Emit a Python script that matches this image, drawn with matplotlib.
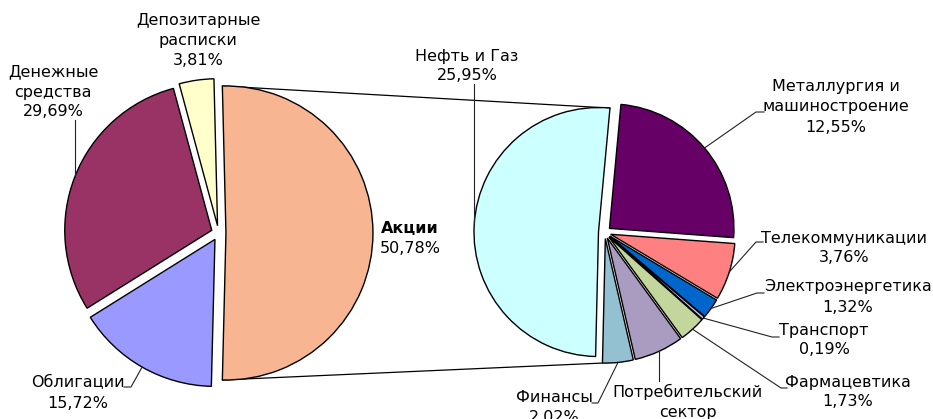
import numpy as np
import matplotlib
matplotlib.use("Agg")
import matplotlib.pyplot as plt

W, H = 933, 419

# ---------------- data ----------------
main_labels = ['Акции', 'Облигации', 'Денежные\nсредства', 'Депозитарные\nрасписки']
main_values = [50.78, 15.72, 29.69, 3.81]
main_colors = ['#F8B592', '#9999FF', '#993366', '#FFFFCC']

sub_labels = ['Металлургия и\nмашиностроение', 'Телекоммуникации', 'Электроэнергетика',
              'Транспорт', 'Фармацевтика', 'Потребительский\nсектор', 'Финансы', 'Нефть и Газ']
sub_values = [12.55, 3.76, 1.32, 0.19, 1.73, 3.26, 2.02, 25.95]
sub_colors = ['#660066', '#FF8080', '#0066CC', '#CCCCFF', '#C3D69B', '#A99CC0', '#93C1D1', '#CCFFFF']

# ---------------- layout (pixel coords, y down) ----------------
main_center_px = (218.6, 233.0)
main_radius = 147
sub_center_px = (604.7, 232.4)
sub_radius = 124.5
sub_start = 84.7
EXPLODE = 0.05  # fraction of radius

main_text_px = [(410, 238.5), (78, 393), (53, 92), (198, 40.5)]
main_leader_px = [None, [(131, 387), (124, 387)], [(None, 120)], None]

sub_text_px = [(836, 107), (844, 248), (848, 297), (824, 340), (848, 392),
               (688, 412), (554, 407.5), (467, 66)]
sub_leader_px = [[(756, 112), (764, 112)], [(756, 242), (763, 242)],
                 [(757, 293), (764, 293)], [(772, 337), (779, 337)],
                 [(781, 388), (787, 388)], [(None, 381)],
                 [(598, 403), (592, 403)], [(None, 84)]]

LINE = 20  # pixel line pitch
FS = 11.5


def P(x, y):
    return (x, H - y)


def fmt(v):
    return f'{v:.2f}'.replace('.', ',') + '%'


fig = plt.figure(figsize=(W / 100, H / 100), dpi=100)
ax = fig.add_axes([0, 0, 1, 1])

wp = dict(edgecolor='black', linewidth=1.0)
# matplotlib's explode is in data units, so scale by radius
main_w, _ = ax.pie(main_values, colors=main_colors, startangle=main_values[0] / 100 * 180,
                   counterclock=False, center=P(*main_center_px), radius=main_radius,
                   explode=[EXPLODE * main_radius] * len(main_values), wedgeprops=wp, frame=True)
sub_w, _ = ax.pie(sub_values, colors=sub_colors, startangle=sub_start,
                  counterclock=False, center=P(*sub_center_px), radius=sub_radius,
                  explode=[EXPLODE * sub_radius] * len(sub_values), wedgeprops=wp, frame=True)

ax.set_xlim(0, W)
ax.set_ylim(0, H)
ax.set_aspect('equal')
ax.axis('off')


def pt(w, ang):
    cx, cy = w.center
    return (cx + w.r * np.cos(np.radians(ang)), cy + w.r * np.sin(np.radians(ang)))


# connectors between the pies
a = main_w[0]
top_l = pt(a, a.theta2)
bot_l = pt(a, a.theta1)
oil = sub_w[-1]
fin = sub_w[-2]
top_r = pt(oil, oil.theta1)
bot_r = pt(fin, fin.theta1)
ax.plot([top_l[0], top_r[0]], [top_l[1], top_r[1]], color='black', lw=0.9, zorder=0.5)
ax.plot([bot_l[0], bot_r[0]], [bot_l[1], bot_r[1]], color='black', lw=0.9, zorder=0.5)


def draw_label(name, val, pos, bold_first=False):
    lines = name.split('\n') + [fmt(val)]
    n = len(lines)
    for i, ln in enumerate(lines):
        y = pos[1] + (i - (n - 1) / 2) * LINE
        ax.text(pos[0], H - y, ln, ha='center', va='center', fontsize=FS,
                fontweight='bold' if (bold_first and i == 0) else 'normal',
                family='DejaVu Sans', color='black', zorder=5)


def draw_leader(w, path):
    if path is None:
        return
    mid = (w.theta1 + w.theta2) / 2
    x0, y0 = pt(w, mid)
    xs, ys = [x0], [y0]
    for (px, py) in path:
        xs.append(xs[-1] if px is None else px)
        ys.append(H - py)
    ax.plot(xs, ys, color='#222222', lw=0.8, zorder=4)


for i, w in enumerate(main_w):
    draw_label(main_labels[i], main_values[i], main_text_px[i], bold_first=(i == 0))
    draw_leader(w, main_leader_px[i])

for i, w in enumerate(sub_w):
    draw_label(sub_labels[i], sub_values[i], sub_text_px[i])
    draw_leader(w, sub_leader_px[i])

fig.savefig('out.png', dpi=100)
